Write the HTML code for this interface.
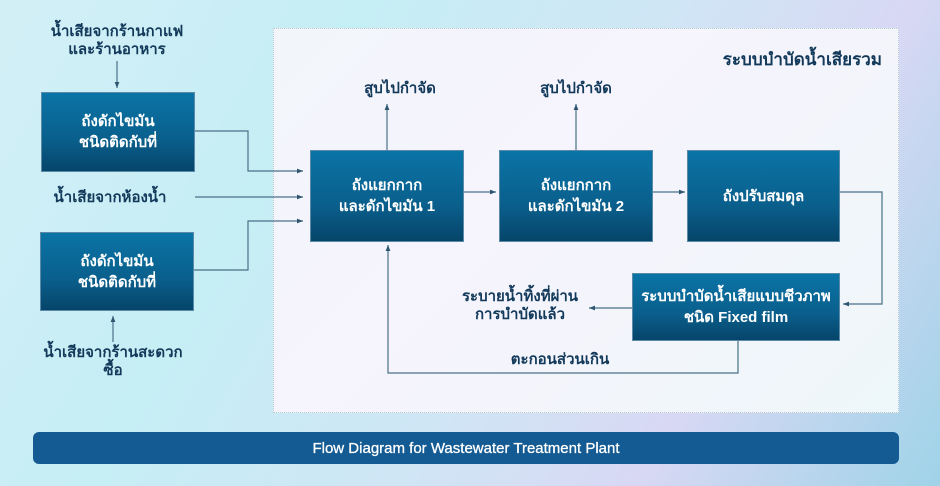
<!DOCTYPE html>
<html><head><meta charset="utf-8"><style>
*{margin:0;padding:0;box-sizing:border-box}
body{width:940px;height:486px;overflow:hidden;position:relative;font-family:"Liberation Sans","Noto Sans CJK SC","WenQuanYi Zen Hei",sans-serif;
background:linear-gradient(120deg,#d3eff6 0%,#c6eef5 30%,#cfe6f5 55%,#d8d8f4 75%,#9fd3e8 100%);}
.panel{position:absolute;left:273px;top:28px;width:626px;height:385px;background:linear-gradient(135deg,#f2f6fb,#f6f4fc 40%,#eef7fa);border:1px dotted #b8c8d0}
.box{position:absolute;background:linear-gradient(#0a74a6,#0a5f8c 60%,#06456a);color:#fff;font-weight:bold;font-size:15px;line-height:21px;display:flex;align-items:center;justify-content:center;text-align:center;border:1px solid #5a8aa8}
.t{position:absolute;color:#12395a;font-weight:bold;font-size:15px;line-height:18px;text-align:center;white-space:nowrap}
svg{position:absolute;left:0;top:0}
.bar{position:absolute;left:33px;top:432px;width:866px;height:32px;background:#155b93;border-radius:6px;color:#fff;font-size:15px;display:flex;align-items:center;justify-content:center;-webkit-text-stroke:0.3px #fff}
</style></head><body>
<div class="panel"></div>
<div class="bar">Flow Diagram for Wastewater Treatment Plant</div>
<svg width="940" height="486"><defs><marker id="a" markerWidth="6" markerHeight="6" refX="5" refY="3" orient="auto"><path d="M0,1 L5,3 L0,5z" fill="#2e5670"/></marker></defs>
<g fill="none" stroke="#4a7088" stroke-width="1.2" marker-end="url(#a)">
<path d="M117 61V88"/>
<path d="M195 131H248V171H303"/>
<path d="M195 197H303"/>
<path d="M194 270H248V221H303"/>
<path d="M113 342V316"/>
<path d="M387 150V104"/>
<path d="M576 150V104"/>
<path d="M464 192H496"/>
<path d="M653 192H685"/>
<path d="M840 192H882V304H843"/>
<path d="M632 308H589"/>
<path d="M738 341V373H388V245"/>
</g></svg>
<div class="t" style="left:17px;top:23px;width:200px">น้ำเสียจากร้านกาแฟ<br>และร้านอาหาร</div>
<div class="t" style="left:10px;top:189px;width:200px">น้ำเสียจากห้องน้ำ</div>
<div class="t" style="left:13px;top:344px;width:200px">น้ำเสียจากร้านสะดวก<br>ซื้อ</div>
<div class="t" style="left:340px;top:80px;width:120px">สูบไปกำจัด</div>
<div class="t" style="left:516px;top:80px;width:120px">สูบไปกำจัด</div>
<div class="t" style="left:680px;top:51px;width:202px;text-align:right;font-size:17px">ระบบบำบัดน้ำเสียรวม</div>
<div class="t" style="left:440px;top:288px;width:160px">ระบายน้ำทิ้งที่ผ่าน<br>การบำบัดแล้ว</div>
<div class="t" style="left:480px;top:351px;width:160px">ตะกอนส่วนเกิน</div>
<div class="box" style="left:41px;top:92px;width:154px;height:80px">ถังดักไขมัน<br>ชนิดติดกับที่</div>
<div class="box" style="left:40px;top:232px;width:154px;height:79px">ถังดักไขมัน<br>ชนิดติดกับที่</div>
<div class="box" style="left:310px;top:150px;width:154px;height:92px">ถังแยกกาก<br>และดักไขมัน 1</div>
<div class="box" style="left:499px;top:150px;width:154px;height:92px">ถังแยกกาก<br>และดักไขมัน 2</div>
<div class="box" style="left:687px;top:150px;width:153px;height:92px">ถังปรับสมดุล</div>
<div class="box" style="left:632px;top:273px;width:208px;height:68px">ระบบบำบัดน้ำเสียแบบชีวภาพ<br>ชนิด Fixed film</div>
</body></html>
